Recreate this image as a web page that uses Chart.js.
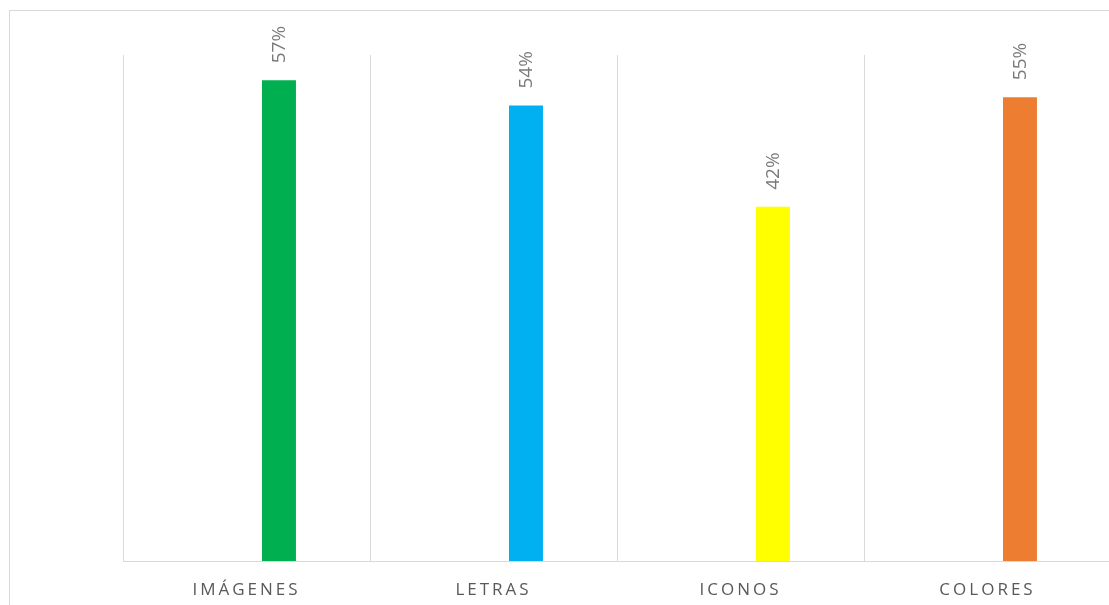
<!DOCTYPE html>
<html>
	<head>
		<meta charset="UTF-8" />
		<title>Elementos</title>
		<style type="text/css">
			body {
				margin: 0;
				overflow: hidden;
				background: #fff;
			}
			.frame {
				position: absolute;
				left: 9px;
				top: 10px;
				width: 1200px;
				height: 700px;
				border: 1px solid #d9d9d9;
			}
			.chartBox {
				position: absolute;
				left: 0;
				top: 0;
				width: 1112px;
				height: 605px;
			}
		</style>
	</head>
	<body>
		<div class="frame"></div>
		<div class="chartBox">
			<canvas id="myChart"></canvas>
		</div>

		<script src="https://cdn.jsdelivr.net/npm/chart.js@4"></script>
		<script>
		// categories and percentages
		var labels = ['IMÁGENES', 'LETRAS', 'ICONOS', 'COLORES'];
		var values = [57, 54, 42, 55];
		var blank = [null, null, null, null];
		var colors = ['#00b050', '#00b0f0', '#ffff00', '#ed7d31'];
		var yMax = 60;
		</script>

		<script>
		const ctx = document.getElementById('myChart').getContext('2d');

		// spaced-out letters for the category names only
		const spacing = {
			id: 'spacing',
			beforeDraw(chart) {
				chart.ctx.letterSpacing = '3px';
			},
			beforeDatasetsDraw(chart) {
				chart.ctx.letterSpacing = '0px';
			}
		};

		// rotated percentage above each bar
		const barLabels = {
			id: 'barLabels',
			afterDatasetsDraw(chart) {
				const c = chart.ctx;
				const meta = chart.getDatasetMeta(1);
				meta.data.forEach(function (bar, i) {
					const p = bar.getProps(['x', 'y'], true);
					c.save();
					c.letterSpacing = '0px';
					c.translate(p.x + 1, p.y - 17);
					c.rotate(-Math.PI / 2);
					c.font = '19px "Open Sans"';
					c.fillStyle = '#7a7a7a';
					c.textAlign = 'left';
					c.textBaseline = 'middle';
					c.fillText(values[i] + '%', 0, 0);
					c.restore();
				});
			}
		};

		const config = {
			type: 'bar',
			data: {
				labels: labels,
				datasets: [{
					label: '',
					data: blank,
				},
				{
					label: 'Porcentaje',
					data: values,
					backgroundColor: colors,
					borderWidth: 0,
				}]
			},
			options: {
				responsive: true,
				maintainAspectRatio: false,
				animation: false,
				categoryPercentage: 0.526,
				barPercentage: 0.523,
				layout: {
					padding: { left: 123, top: 55, right: 1, bottom: 0 }
				},
				plugins: {
					legend: { display: false },
					tooltip: { enabled: false }
				},
				scales: {
					x: {
						afterFit(scale) { scale.height = 44; },
						grid: {
							offset: true,
							color: '#d9d9d9',
							lineWidth: 1,
							drawTicks: false
						},
						border: { display: true, color: '#d9d9d9', width: 1 },
						ticks: {
							color: '#595959',
							padding: 19,
							font: { family: 'Open Sans', size: 17 },
							maxRotation: 0
						}
					},
					y: {
						display: false,
						min: 0,
						max: yMax
					}
				}
			},
			plugins: [spacing, barLabels]
		};

		const myChart = new Chart(ctx, config);
		</script>
	</body>
</html>
